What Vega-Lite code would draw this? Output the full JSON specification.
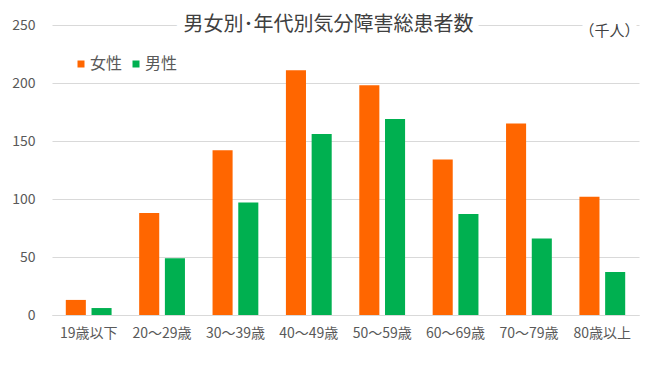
{
  "$schema": "https://vega.github.io/schema/vega-lite/v6.json",
  "width": 587,
  "height": 290,
  "autosize": {"type": "none"},
  "padding": {"left": 52, "top": 25, "right": 21, "bottom": 54},
  "background": "white",
  "config": {"view": {"stroke": null}, "font": "Noto Sans CJK JP"},
  "datasets": {
    "bars": [
      {"age": "19歳以下", "sex": "女性", "value": 13},
      {"age": "19歳以下", "sex": "男性", "value": 6},
      {"age": "20〜29歳", "sex": "女性", "value": 88},
      {"age": "20〜29歳", "sex": "男性", "value": 49},
      {"age": "30〜39歳", "sex": "女性", "value": 142},
      {"age": "30〜39歳", "sex": "男性", "value": 97},
      {"age": "40〜49歳", "sex": "女性", "value": 211},
      {"age": "40〜49歳", "sex": "男性", "value": 156},
      {"age": "50〜59歳", "sex": "女性", "value": 198},
      {"age": "50〜59歳", "sex": "男性", "value": 169},
      {"age": "60〜69歳", "sex": "女性", "value": 134},
      {"age": "60〜69歳", "sex": "男性", "value": 87},
      {"age": "70〜79歳", "sex": "女性", "value": 165},
      {"age": "70〜79歳", "sex": "男性", "value": 66},
      {"age": "80歳以上", "sex": "女性", "value": 102},
      {"age": "80歳以上", "sex": "男性", "value": 37}
    ],
    "title": [{"text": "男女別･年代別気分障害総患者数", "age": "40〜49歳", "v": 250}],
    "unit": [{"text": "（千人）", "age": "80歳以上", "v": 245}]
  },
  "layer": [
    {
      "data": {"name": "bars"},
      "mark": {"type": "bar"},
      "encoding": {
        "x": {
          "field": "age",
          "type": "nominal",
          "sort": null,
          "scale": {
            "domain": ["19歳以下", "20〜29歳", "30〜39歳", "40〜49歳", "50〜59歳", "60〜69歳", "70〜79歳", "80歳以上"],
            "paddingInner": 0.376,
            "paddingOuter": 0.188
          },
          "axis": {
            "title": null,
            "labelAngle": 0,
            "labelColor": "#595959",
            "labelFontSize": 14,
            "labelPadding": 11,
            "ticks": false,
            "domainColor": "#D9D9D9",
            "grid": false
          }
        },
        "xOffset": {
          "field": "sex",
          "type": "nominal",
          "sort": ["女性", "男性"],
          "scale": {"paddingInner": 0.22, "paddingOuter": 0}
        },
        "y": {
          "field": "value",
          "type": "quantitative",
          "scale": {"domain": [0, 250], "nice": false},
          "axis": {
            "title": null,
            "values": [0, 50, 100, 150, 200, 250],
            "domain": false,
            "ticks": false,
            "labelColor": "#595959",
            "labelFontSize": 14,
            "labelPadding": 17,
            "gridColor": "#D9D9D9"
          }
        },
        "color": {
          "field": "sex",
          "type": "nominal",
          "scale": {"domain": ["女性", "男性"], "range": ["#FF6600", "#00B050"]},
          "legend": {
            "title": null,
            "orient": "none",
            "legendX": 12,
            "legendY": 22,
            "direction": "horizontal",
            "fillColor": "white",
            "padding": 9,
            "symbolType": "square",
            "symbolSize": 49,
            "labelFontSize": 16,
            "labelColor": "#595959",
            "labelOffset": 1,
            "columnPadding": 5
          }
        }
      }
    },
    {
      "data": {"name": "title"},
      "mark": {"type": "text", "fontSize": 20, "align": "center", "baseline": "middle", "fill": "white", "stroke": "white", "strokeWidth": 16, "strokeJoin": "round"},
      "encoding": {
        "x": {"field": "age", "type": "nominal", "bandPosition": 0.93},
        "y": {"field": "v", "type": "quantitative"},
        "text": {"field": "text"}
      }
    },
    {
      "data": {"name": "title"},
      "mark": {"type": "text", "fontSize": 20, "align": "center", "baseline": "middle", "color": "#404040"},
      "encoding": {
        "x": {"field": "age", "type": "nominal", "bandPosition": 0.93},
        "y": {"field": "v", "type": "quantitative"},
        "text": {"field": "text"}
      }
    },
    {
      "data": {"name": "unit"},
      "mark": {"type": "text", "fontSize": 15, "align": "center", "baseline": "middle", "fill": "white", "stroke": "white", "strokeWidth": 16, "strokeJoin": "round"},
      "encoding": {
        "x": {"field": "age", "type": "nominal", "bandPosition": 0.657},
        "y": {"field": "v", "type": "quantitative"},
        "text": {"field": "text"}
      }
    },
    {
      "data": {"name": "unit"},
      "mark": {"type": "text", "fontSize": 15, "align": "center", "baseline": "middle", "color": "#404040"},
      "encoding": {
        "x": {"field": "age", "type": "nominal", "bandPosition": 0.657},
        "y": {"field": "v", "type": "quantitative"},
        "text": {"field": "text"}
      }
    }
  ]
}
